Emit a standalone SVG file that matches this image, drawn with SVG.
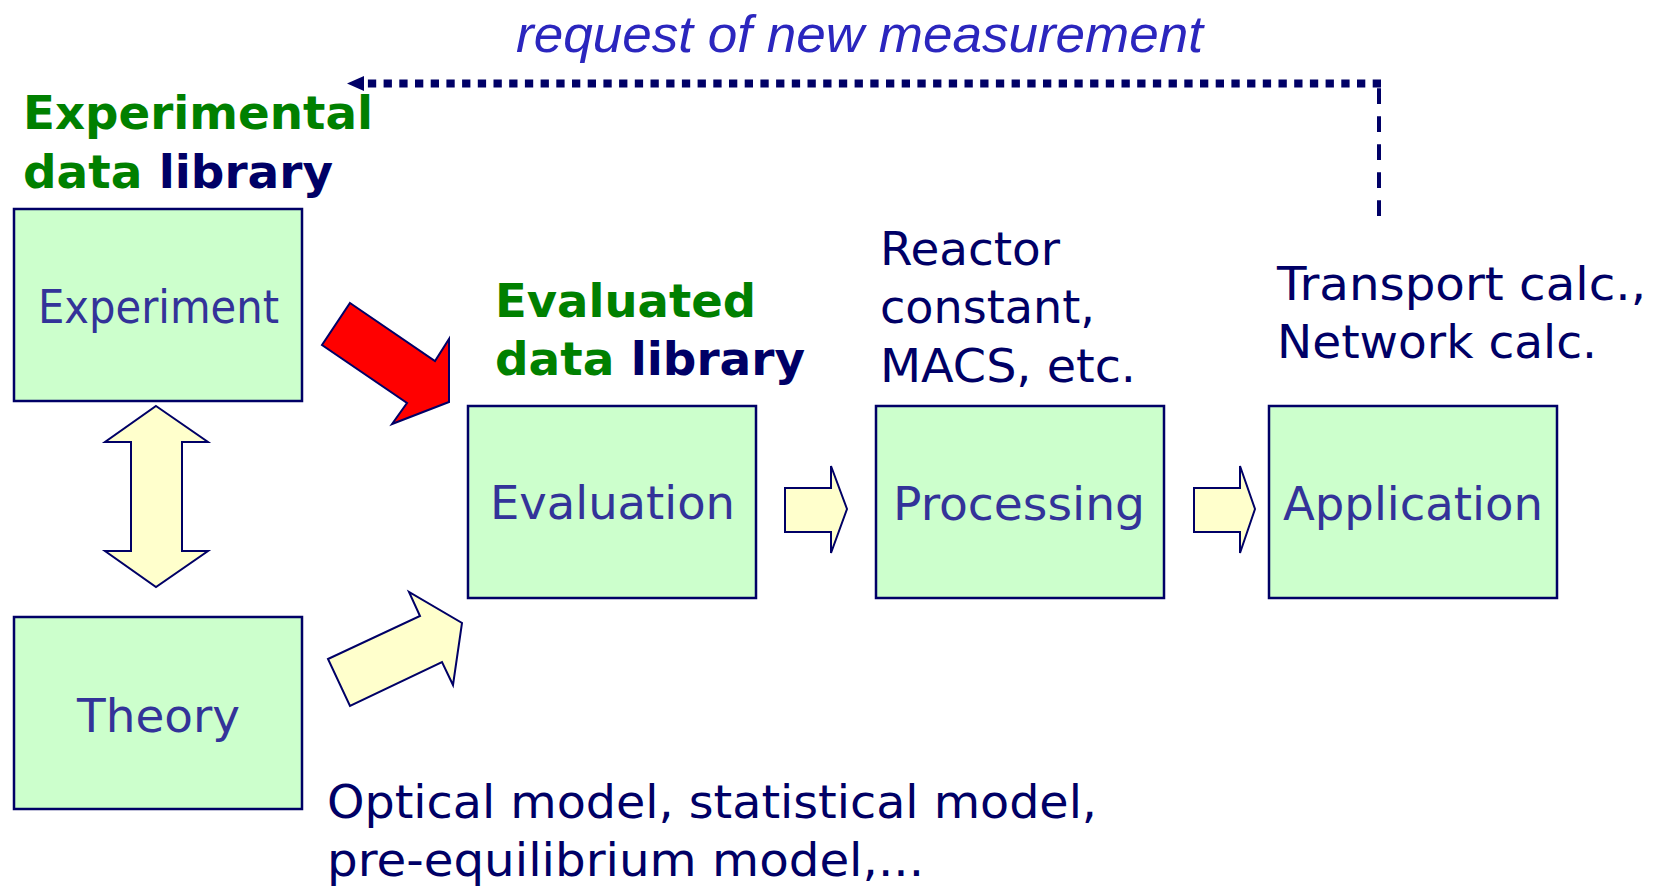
<svg xmlns="http://www.w3.org/2000/svg" width="1668" height="889" viewBox="0 0 1668 889">
<style>
.box{fill:#CCFFCC;stroke:#000066;stroke-width:2.5}
.bt{font-family:"DejaVu Sans",Verdana,sans-serif;font-size:46px;fill:#333399}
.lbl{font-family:"DejaVu Sans",Verdana,sans-serif;font-size:46px;fill:#000066}
.hd{font-family:"DejaVu Sans",Verdana,sans-serif;font-size:46px;font-weight:bold}
.g{fill:#008000}
.n{fill:#000066}
.ya{fill:#FFFFCC;stroke:#000066;stroke-width:2;stroke-linejoin:miter}
.ra{fill:#FF0000;stroke:#000066;stroke-width:2}
.req{font-family:"Liberation Sans",Arial,sans-serif;font-style:italic;font-size:52px;fill:#2B26BE}
</style>
<rect width="1668" height="889" fill="#FFFFFF"/>
<g id="request-label">
<text class="req" x="516" y="52" textLength="687" lengthAdjust="spacingAndGlyphs">request of new measurement</text>
</g>
<g id="experimental-label">
<text class="hd" x="23" y="129" textLength="350" lengthAdjust="spacingAndGlyphs"><tspan class="g">Experimental</tspan></text>
<text class="hd" x="23" y="188" textLength="310" lengthAdjust="spacingAndGlyphs"><tspan class="g">data </tspan><tspan class="n">library</tspan></text>
</g>
<g id="evaluated-label">
<text class="hd" x="495" y="317" textLength="261" lengthAdjust="spacingAndGlyphs"><tspan class="g">Evaluated</tspan></text>
<text class="hd" x="495" y="375" textLength="310" lengthAdjust="spacingAndGlyphs"><tspan class="g">data </tspan><tspan class="n">library</tspan></text>
</g>
<g id="processing-label">
<text class="lbl" x="880" y="265" textLength="180" lengthAdjust="spacingAndGlyphs">Reactor</text>
<text class="lbl" x="880" y="323" textLength="215" lengthAdjust="spacingAndGlyphs">constant,</text>
<text class="lbl" x="880" y="382" textLength="256" lengthAdjust="spacingAndGlyphs">MACS, etc.</text>
</g>
<g id="application-label">
<text class="lbl" x="1277" y="300" textLength="369" lengthAdjust="spacingAndGlyphs">Transport calc.,</text>
<text class="lbl" x="1277" y="358" textLength="320" lengthAdjust="spacingAndGlyphs">Network calc.</text>
</g>
<g id="theory-label">
<text class="lbl" x="327" y="818" textLength="770" lengthAdjust="spacingAndGlyphs">Optical model, statistical model,</text>
<text class="lbl" x="327" y="876" textLength="597" lengthAdjust="spacingAndGlyphs">pre-equilibrium model,...</text>
</g>
<g id="experiment">
<rect class="box" x="14" y="209" width="288" height="192"/>
<text class="bt" x="38" y="323" textLength="241" lengthAdjust="spacingAndGlyphs">Experiment</text>
</g>
<g id="theory">
<rect class="box" x="14" y="617" width="288" height="192"/>
<text class="bt" x="77" y="732" textLength="163" lengthAdjust="spacingAndGlyphs">Theory</text>
</g>
<g id="evaluation">
<rect class="box" x="468" y="406" width="288" height="192"/>
<text class="bt" x="490" y="519" textLength="245" lengthAdjust="spacingAndGlyphs">Evaluation</text>
</g>
<g id="processing">
<rect class="box" x="876" y="406" width="288" height="192"/>
<text class="bt" x="893" y="520" textLength="252" lengthAdjust="spacingAndGlyphs">Processing</text>
</g>
<g id="application">
<rect class="box" x="1269" y="406" width="288" height="192"/>
<text class="bt" x="1283" y="520" textLength="260" lengthAdjust="spacingAndGlyphs">Application</text>
</g>
<g id="connectors">
<polygon class="ya" points="156,406 208,442 182,442 182,551 208,551 156,587 105,551 131,551 131,442 105,442"/>
<polygon class="ra" points="350,303 435,361 449,339 449,402 392,424 407,403 322,345"/>
<polygon class="ya" points="328,659 420,616 409,592 462,623 453,685 442,662 350,706"/>
<polygon class="ya" points="785,488 831,488 831,466 847,509 831,553 831,532 785,532"/>
<polygon class="ya" points="1194,488 1240,488 1240,466 1255,509 1240,553 1240,532 1194,532"/>
<line x1="1379" y1="216" x2="1379" y2="88" stroke="#000066" stroke-width="4" stroke-dasharray="15.7 12.3"/>
<line x1="1381" y1="83.5" x2="364" y2="83.5" stroke="#000066" stroke-width="8" stroke-dasharray="8.3 7.4"/>
<polygon points="347,83.5 364,76 364,91" fill="#000066"/>
</g>
</svg>
